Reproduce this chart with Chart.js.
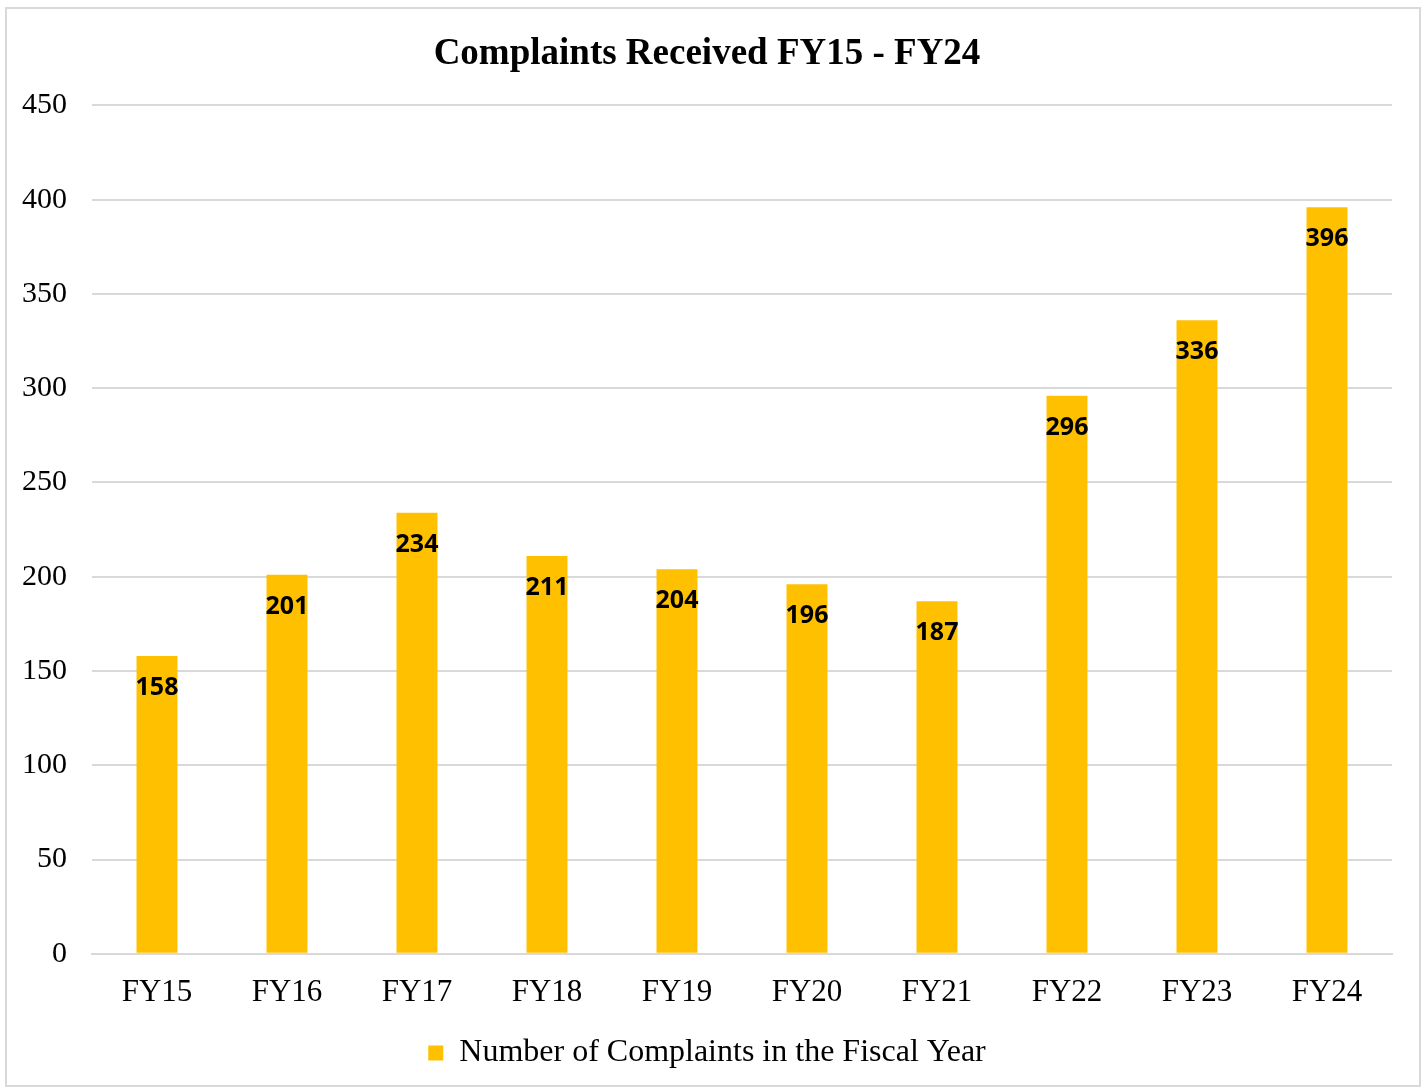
<!DOCTYPE html>
<html>
<head>
<meta charset="utf-8">
<script src="https://cdn.jsdelivr.net/npm/chart.js@4"></script>
<style>
  html, body { margin: 0; padding: 0; background: #fff; }
  #box {
    position: absolute; left: 5px; top: 7px;
    width: 1416px; height: 1080px;
    border: 2px solid #d9d9d9; box-sizing: border-box;
  }
  canvas { display: block; }
</style>
</head>
<body>
<div id="box"><canvas id="chart" width="1412" height="1076"></canvas></div>
<script>
const categories = ['FY15', 'FY16', 'FY17', 'FY18', 'FY19', 'FY20', 'FY21', 'FY22', 'FY23', 'FY24'];
const complaints = [158, 201, 234, 211, 204, 196, 187, 296, 336, 396];
const seriesLabel = 'Number of Complaints in the Fiscal Year';
const chartTitle = 'Complaints Received FY15 - FY24';

// draws the number inside the top of each bar
const barLabels = {
    id: 'barLabels',
    afterDatasetsDraw(chart) {
        const ctx = chart.ctx;
        const meta = chart.getDatasetMeta(0);
        ctx.save();
        ctx.font = 'bold 25px "Open Sans"';
        ctx.fillStyle = '#000';
        ctx.textAlign = 'center';
        ctx.textBaseline = 'middle';
        meta.data.forEach((bar, i) => {
            ctx.fillText(String(complaints[i]), bar.x, bar.y + 32);
        });
        ctx.restore();
    }
};

new Chart(document.getElementById('chart'), {
    type: 'bar',
    data: {
        labels: categories,
        datasets: [{
            label: seriesLabel,
            data: complaints,
            backgroundColor: '#FFC000',
            borderWidth: 0,
            barPercentage: 0.63,
            categoryPercentage: 0.5
        }]
    },
    options: {
        responsive: false,
        animation: false,
        layout: { padding: { left: 15, right: 27, top: 6, bottom: 6 } },
        plugins: {
            title: {
                display: true,
                text: chartTitle,
                color: '#000',
                font: { family: '"Liberation Serif"', size: 37, weight: 'bold' },
                padding: { top: 17, bottom: 29 }
            },
            legend: {
                position: 'bottom',
                labels: {
                    color: '#000',
                    font: { family: '"Liberation Serif"', size: 32 },
                    boxWidth: 15,
                    boxHeight: 15,
                    padding: 14
                }
            },
            tooltip: { enabled: false }
        },
        scales: {
            x: {
                grid: { display: false },
                border: { color: '#d9d9d9', width: 2 },
                ticks: {
                    color: '#000',
                    font: { family: '"Liberation Serif"', size: 31 },
                    padding: 12
                }
            },
            y: {
                min: 0,
                max: 450,
                afterFit(scale) { scale.width = 70; },
                grid: { color: '#d9d9d9', lineWidth: 2, drawTicks: false },
                border: { display: false },
                ticks: {
                    stepSize: 50,
                    color: '#000',
                    font: { family: '"Liberation Serif"', size: 30 },
                    padding: 25
                }
            }
        }
    },
    plugins: [barLabels]
});
</script>
</body>
</html>
